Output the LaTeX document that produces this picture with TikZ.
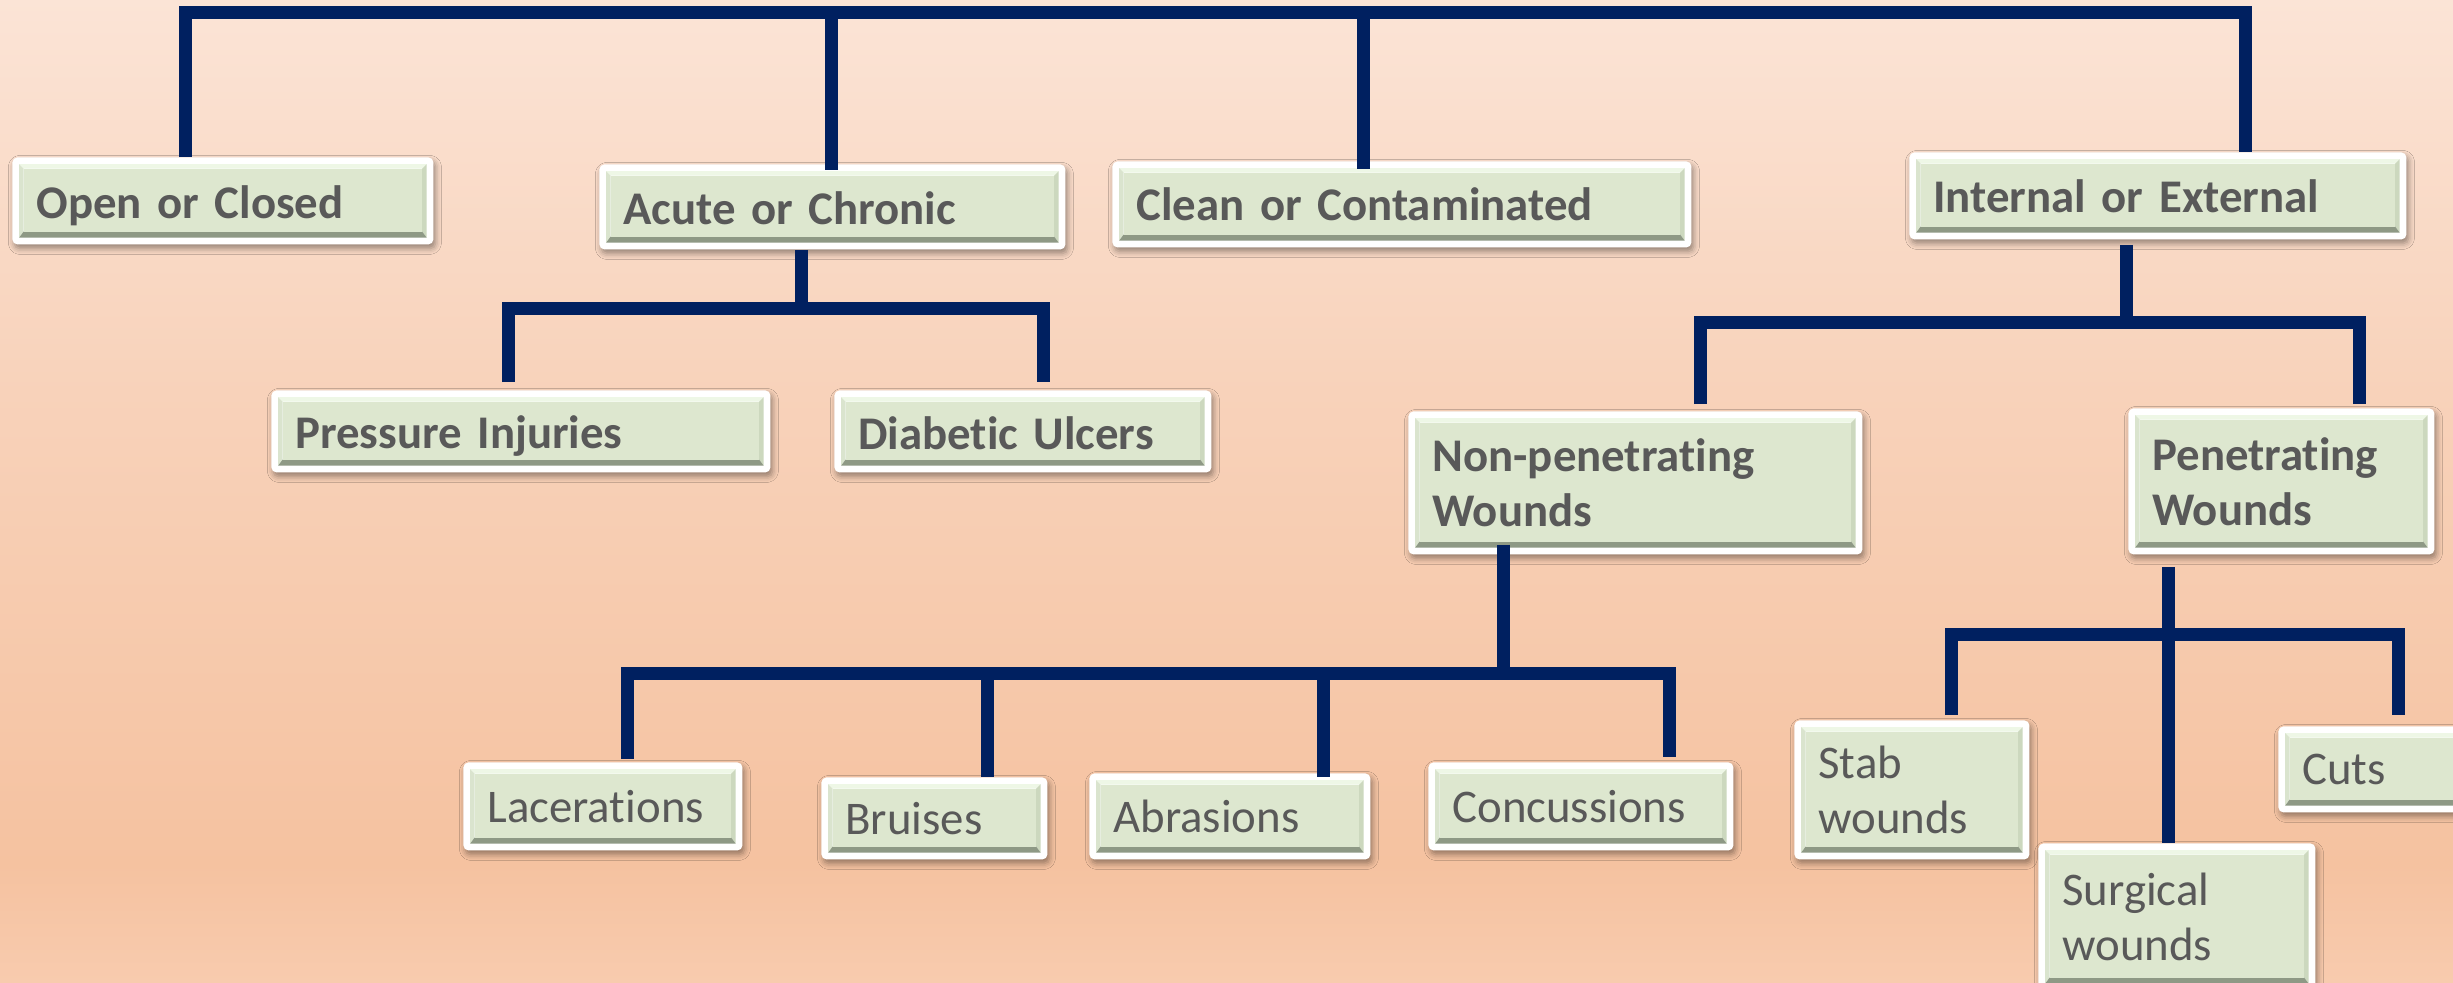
\documentclass[tikz,border=0pt]{standalone}
\usepackage{fontspec}
\setmainfont{Carlito}[Ligatures=NoCommon, WordSpace=0.75]
\usetikzlibrary{calc,shadows.blur}
\definecolor{navy}{HTML}{002060}
\definecolor{txt}{HTML}{595959}
\definecolor{gfill}{HTML}{DDE7CF}
\definecolor{glight}{HTML}{EEF7E6}
\definecolor{gside}{HTML}{CCD8BE}
\definecolor{gdark}{HTML}{8E9985}
\definecolor{bgtop}{HTML}{FBE4D6}
\definecolor{bgmid}{HTML}{F8D2BA}
\definecolor{bgdark}{HTML}{F5C2A0}
\definecolor{bgbot}{HTML}{F8CBAE}
\pgfdeclareverticalshading{bgshade}{100bp}{color(0bp)=(bgbot); color(25bp)=(bgbot); color(31bp)=(bgdark); color(55bp)=(bgmid); color(75bp)=(bgtop); color(100bp)=(bgtop)}
\newcommand{\lowerby}[2]{\raisebox{-#1}[\height][\depth]{#2}}
\tikzset{
  conn/.style={draw=navy, line width=6.5pt, line join=miter, line cap=butt},
  wbox/.style={rectangle, anchor=north west, fill=white, rounded corners=2.5pt,
    blur shadow={shadow xshift=1pt, shadow yshift=-2pt, shadow blur radius=3pt, shadow opacity=40},
    inner xsep=12pt, inner ysep=2pt, align=left, text=txt,
    font=\fontsize{23.4pt}{27.5pt}\selectfont,
    path picture={
      \path[sharp corners] (path picture bounding box.north west) ++(3.4pt,-3.4pt) coordinate (p1)
            (path picture bounding box.south east) ++(-3.4pt,3.4pt) coordinate (p3);
      \path (p1 -| p3) coordinate (p2) (p1 |- p3) coordinate (p4);
      \path (p1) ++(2.2pt,-2.2pt) coordinate (q1) (p3) ++(-2.2pt,3pt) coordinate (q3);
      \path (q1 -| q3) coordinate (q2) (q1 |- q3) coordinate (q4);
      \fill[sharp corners, glight] (p1) -- (p2) -- (q2) -- (q1) -- cycle;
      \fill[sharp corners, gside!60!glight] (p1) -- (q1) -- (q4) -- (p4) -- cycle;
      \fill[sharp corners, gside] (p2) -- (p3) -- (q3) -- (q2) -- cycle;
      \fill[sharp corners, gdark] (p4) -- (q4) -- (q3) -- (p3) -- cycle;
      \fill[sharp corners, gfill] (q1) rectangle (q3);
    }},
  boldbox/.style={wbox, font=\fontsize{23.4pt}{27.5pt}\selectfont\bfseries}
}
\begin{document}
\begin{tikzpicture}[x=0.5pt,y=-0.5pt]
\useasboundingbox (0,0) rectangle (2453,982);
\shade[shading=bgshade] (0,0) rectangle (2453,982);

% level 1
\node[boldbox, minimum width=210.5pt, minimum height=43.5pt, text width=186.5pt] (open) at (12,157) {\lowerby{2.3pt}{Open or Closed}};
\node[boldbox, minimum width=233pt, minimum height=42.5pt, text width=209pt] (acute) at (599,164) {\lowerby{0.8pt}{Acute or Chronic}};
\node[boldbox, minimum width=289.5pt, minimum height=43pt, text width=265.5pt] (clean) at (1112,161) {Clean or Contaminated};
\node[boldbox, minimum width=248.5pt, minimum height=43.5pt, text width=224.5pt] (internal) at (1909,152) {Internal or External};

% level 2
\node[boldbox, minimum width=249.5pt, minimum height=41pt, text width=225.5pt] (pressure) at (271,390) {\lowerby{2.3pt}{Pressure Injuries}};
\node[boldbox, minimum width=188.5pt, minimum height=41pt, text width=164.5pt] (diabetic) at (834,390) {\lowerby{0.8pt}{Diabetic Ulcers}};
\node[boldbox, minimum width=227pt, minimum height=71.5pt, text width=203pt] (nonpen) at (1408,411) {Non-penetrating\\Wounds};
\node[boldbox, minimum width=153pt, minimum height=73pt, text width=129pt] (pen) at (2128,408) {Penetrating\\Wounds};

% level 3
\node[wbox, minimum width=139.5pt, minimum height=44pt, text width=115.5pt] (lac) at (463,762) {Lacerations};
\node[wbox, minimum width=113pt, minimum height=41pt, text width=89pt] (bruises) at (821,777) {Bruises};
\node[wbox, minimum width=140.5pt, minimum height=43pt, text width=116.5pt] (abr) at (1089,773) {Abrasions};
\node[wbox, minimum width=152.5pt, minimum height=44pt, text width=128.5pt] (conc) at (1428,762) {Concussions};
\node[wbox, minimum width=117.5pt, minimum height=69.5pt, text width=93.5pt] (stab) at (1794,720) {Stab\\wounds};
\node[wbox, minimum width=138.5pt, minimum height=73.5pt, text width=114.5pt] (surg) at (2038,843) {Surgical\\wounds};
\node[wbox, minimum width=106pt, minimum height=43pt, text width=82pt] (cuts) at (2278,726) {Cuts};

% top bar
\coordinate (t1) at (185,12.5);
\coordinate (t2) at (831,12.5);
\coordinate (t3) at (1363,12.5);
\coordinate (t4) at (2245,12.5);
\draw[conn] (open.north -| t1) -- (t1) -- (t4) -- (internal.north -| t4);
\draw[conn] (t2) -- ($(acute.north -| t2)+(0,6)$);
\draw[conn] (t3) -- ($(clean.north -| t3)+(0,8)$);

% acute children
\coordinate (ab) at (801,308);
\coordinate (al) at (508,308);
\coordinate (ar) at (1043,308);
\draw[conn] (acute.south -| ab) -- (ab);
\draw[conn] ($(pressure.north -| al)+(0,-8)$) -- (al) -- (ar) -- ($(diabetic.north -| ar)+(0,-8)$);

% internal children
\coordinate (ib) at (2126,322);
\coordinate (il) at (1700,322);
\coordinate (ir) at (2359,322);
\draw[conn] ($(internal.south -| ib)+(0,5)$) -- (ib);
\draw[conn] ($(nonpen.north -| il)+(0,-7)$) -- (il) -- (ir) -- ($(pen.north -| ir)+(0,-4)$);

% non-penetrating children
\coordinate (nb) at (1503,673);
\coordinate (n1) at (627,673);
\coordinate (n2) at (987,673);
\coordinate (n3) at (1323,673);
\coordinate (n4) at (1669,673);
\draw[conn] ($(nonpen.south -| nb)+(0,-10)$) -- (nb);
\draw[conn] ($(lac.north -| n1)+(0,-3)$) -- (n1) -- (n4) -- ($(conc.north -| n4)+(0,-5)$);
\draw[conn] (n2) -- (bruises.north -| n2);
\draw[conn] (n3) -- ($(abr.north -| n3)+(0,4)$);

% penetrating children
\coordinate (pb) at (2168,634);
\coordinate (pl) at (1951,634);
\coordinate (pr) at (2398,634);
\draw[conn] ($(pen.south -| pb)+(0,12)$) -- (surg.north -| pb);
\draw[conn] ($(stab.north -| pl)+(0,-5)$) -- (pl) -- (pr) -- ($(cuts.north -| pr)+(0,-11)$);
\end{tikzpicture}
\end{document}
